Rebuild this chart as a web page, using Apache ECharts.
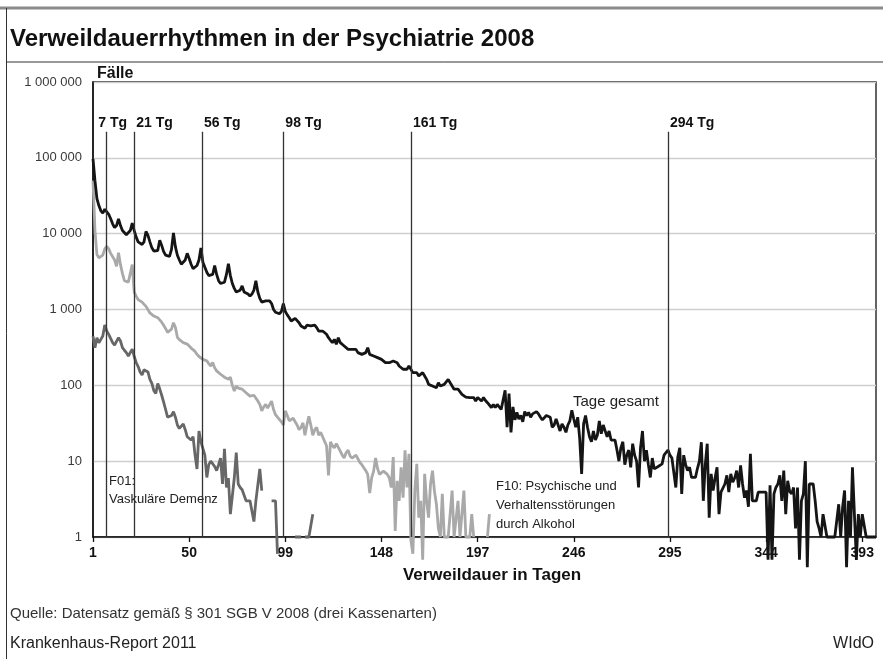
<!DOCTYPE html>
<html>
<head>
<meta charset="utf-8">
<script src="https://cdn.jsdelivr.net/npm/echarts@6/dist/echarts.min.js"></script>
<style>
  html, body { margin: 0; padding: 0; background: #fff; }
  #chart { width: 883px; height: 659px; }
</style>
</head>
<body>
<div id="chart"></div>
<script>
  // Fälle je Verweildauertag, Index 0 = Tag 1 (Werte < 1 = kein Fall, unter die Achse gezeichnet)
  var tageGesamt = [
    97000, 50000, 29000, 23500, 20000, 18700, 21000, 20000, 18000, 15700,
    13500, 12000, 12800, 15700, 12800, 11000, 10500, 9700, 9500, 11000,
    13800, 11000, 9000, 7800, 7400, 7200, 7800, 10700, 9500, 7800,
    6500, 5900, 5600, 6000, 8200, 7000, 5800, 5200, 5000, 5000,
    6200, 10200, 6700, 5200, 4500, 3950, 3950, 4500, 5500, 4700,
    3950, 3450, 3500, 3800, 4500, 6500, 4200, 3600, 3100, 2800,
    2650, 2900, 3800, 2900, 2400, 2200, 2150, 2300, 2900, 4000,
    2800, 2200, 1900, 1700, 1750, 1800, 2050, 1700, 1650, 1600,
    1500, 1600, 1800, 2400, 1700, 1400, 1250, 1250, 1300, 1350,
    1300, 1200, 1000, 920, 900, 880, 940, 1200, 940, 850,
    780, 705, 715, 765, 742, 670, 606, 576, 565, 620,
    606, 606, 576, 620, 576, 520, 495, 520, 495, 471,
    425, 393, 365, 404, 348, 425, 365, 348, 330, 314,
    298, 314, 298, 284, 298, 270, 270, 256, 270, 270,
    314, 256, 244, 244, 232, 232, 220, 220, 209, 199,
    209, 199, 199, 209, 220, 199, 180, 171, 163, 163,
    163, 180, 171, 147, 140, 147, 133, 140, 147, 133,
    120, 103, 108, 98, 103, 93, 108, 98, 93, 103,
    98, 120, 108, 98, 89, 84, 89, 84, 76, 72,
    70, 72, 69, 65, 69, 62, 69, 65, 62, 69,
    63, 59, 56, 51, 56, 51, 56, 53, 48, 49,
    86, 28, 78, 24, 52, 35, 44, 36, 40, 33,
    45, 40, 44, 38, 42, 40, 45, 42, 38, 35,
    33, 40, 42, 38, 28, 30, 36, 30, 25, 31,
    28, 24, 30, 34, 47, 36, 28, 38, 20, 6.8,
    31, 40, 28, 21, 18, 25, 19, 22, 34, 23,
    30, 25, 21, 25, 19, 19, 19, 14, 10, 15,
    18, 9, 12, 14, 8.3, 17, 12, 10, 4.5, 15,
    25, 10, 14, 9, 6.1, 11, 7.9, 8.3, 8.5, 8.8,
    9.2, 12, 13, 14, 12, 11, 7, 4.5, 11.3, 15,
    3.7, 12, 9, 7.5, 8.3, 6.1, 6.1, 6.1, 8, 10,
    17.8, 3, 9, 17, 1.8, 6.8, 4.1, 6, 8.3, 2,
    3.9, 4.1, 5, 6.5, 3.9, 6.8, 5.3, 6, 7.5, 4.5,
    8.8, 5, 3.3, 4.1, 2.5, 12.5, 3, 3, 3, 3.9,
    3.9, 3.9, 3.9, 3.9, 0.5, 4.8, 0.5, 3.7, 4.5, 5,
    6.5, 3, 7.5, 2, 5.5, 4, 3.7, 4.5, 1.3, 4.5,
    0.5, 3, 3.7, 10, 0.4, 5, 5, 5, 3, 1.6,
    1.3, 1, 2, 2, 1, 1, 1, 1, 1, 1,
    2.7, 1, 2.5, 4.1, 0.4, 3, 1, 8.3, 2, 0.5,
    2, 1, 2, 2, 1, 1, 1, 1, 1, 1
  ];

  var f10Alkohol = [
    50000, 11000, 5300, 4800, 4800, 5200, 6300, 6800, 6300, 5500,
    5700, 4500, 3700, 5600, 3900, 3000, 2400, 2400, 2300, 2200,
    3900, 1700, 1500, 1350, 1300, 1250, 1200, 1100, 1050, 900,
    860, 820, 800, 780, 800, 680, 620, 560, 500, 520,
    550, 670, 580, 430, 400, 380, 365, 360, 350, 330,
    310, 300, 280, 256, 240, 230, 220, 230, 210, 193,
    180, 200, 170, 155, 150, 140, 133, 128, 122, 120,
    128, 100, 84, 98, 92, 88, 89, 85, 80, 76,
    72, 69, 74, 76, 62, 56, 46, 52, 56, 50,
    51, 62, 48, 41, 38, 37, 33, 30, 46, 40,
    34, 36, 37, 33, 30, 26, 28, 32, 22, 30,
    39, 30, 22, 26, 28, 22, 24, 21, 20, 16,
    6.5, 18, 16, 15, 17, 16, 13.6, 12, 11, 13,
    14, 11.7, 11, 10.6, 12, 12.5, 9.6, 9, 8.2, 7.5,
    6.7, 3.8, 6, 7.4, 11, 8, 6.7, 7, 7.4, 7,
    6.7, 6, 4.5, 11.3, 1.2, 5.5, 3, 8.3, 3.3, 13.9,
    4.5, 12.5, 0.9, 0.6, 4.1, 9.2, 1.8, 3, 0.5, 6.8,
    3, 1.8, 5, 7.5, 4, 2.7, 1.3, 1, 3.7, 1,
    1, 1, 1, 4.1, 1, 1, 3, 1, 1, 4.1,
    1, 1, 1, 2, 1, null, null, null, null, null,
    null, 1, 2
  ];

  var f01Demenz = [
    447, 314, 425, 365, 404, 447, 625, 520, 470, 447,
    365, 340, 380, 425, 384, 314, 290, 270, 244, 232,
    300, 240, 200, 177, 150, 137, 160, 168, 150, 120,
    106, 85, 78, 106, 90, 74, 60, 48, 38, 37,
    40, 45, 38, 30, 27, 29, 31, 26, 21, 20,
    19, 21, 12, 7.9, 25, 18, 17, 12, 6.1, 9,
    10, 10, 8.5, 7.5, 9, 11, 5, 14.6, 4.5, 6,
    2, 2, 6, 13, 5, 4.5, 4.2, 4, 3, 3,
    3, 3, 1.6, 3, 3, 7.9, 4.1, null, null, null,
    null, 3, 3, 3, 0.6, null, null, null, null, null,
    null, null, null, 1, 1, 1, 1, null, 1, 1,
    1, 1, 2
  ];

  var xTicks = [1, 50, 99, 148, 197, 246, 295, 344, 393];
  var refLabels = ['7 Tg', '21 Tg', '56 Tg', '98 Tg', '161 Tg', '294 Tg'];
  var refPos = [7.5, 22, 56.5, 98, 163, 294];

  var FONT = "'Liberation Sans', Arial, sans-serif";

  function toPairs(arr) {
    return arr.map(function (v, i) {
      return [i + 1, v == null ? '-' : v];
    });
  }

  var refLines = refPos.map(function (d, i) {
    var lbl = { formatter: refLabels[i] };
    if (i === 0) {
      lbl.align = 'center';
      lbl.padding = [0, 0, 0, 14];
    }
    return [
      { coord: [d, 1], label: lbl },
      { coord: [d, 220000] }
    ];
  });

  var myChart = echarts.init(document.getElementById('chart'), null, { renderer: 'canvas' });

  var option = {
    animation: false,
    backgroundColor: '#fff',
    textStyle: { fontFamily: FONT },
    grid: {
      left: 93, right: 7, top: 82, bottom: 122,
      show: true, borderColor: '#111', borderWidth: 1.3,
      containLabel: false
    },
    xAxis: {
      type: 'value', min: 1, max: 400,
      axisLine: { lineStyle: { color: '#111', width: 1.5 } },
      axisTick: { show: true, customValues: xTicks, length: 5, lineStyle: { color: '#111', width: 1.3 } },
      axisLabel: { customValues: xTicks, margin: 9, fontSize: 14, fontWeight: 'bold', color: '#111', fontFamily: FONT },
      splitLine: { show: false },
      name: 'Verweildauer in Tagen',
      nameLocation: 'middle',
      nameGap: 30,
      nameTextStyle: { fontSize: 17, fontWeight: 'bold', color: '#111', fontFamily: FONT, padding: [0, 0, 0, 15] }
    },
    yAxis: {
      type: 'log', logBase: 10, min: 1, max: 1000000,
      axisLine: { show: true, lineStyle: { color: '#111', width: 1.5 } },
      axisTick: { show: false },
      axisLabel: {
        margin: 11, fontSize: 13, color: '#3a3a3a', fontFamily: FONT,
        formatter: function (v) {
          return String(Math.round(v)).replace(/\B(?=(\d{3})+(?!\d))/g, ' ');
        }
      },
      splitLine: { lineStyle: { color: '#cfcfcf', width: 1.3 } },
      name: 'Fälle',
      nameLocation: 'end',
      nameGap: 0,
      nameTextStyle: { align: 'left', verticalAlign: 'bottom', fontSize: 16, fontWeight: 'bold', color: '#111', fontFamily: FONT, padding: [0, 0, 0, 4] }
    },
    series: [
      {
        name: 'F10', type: 'line', data: toPairs(f10Alkohol),
        showSymbol: false, symbol: 'none', clip: false, connectNulls: false,
        lineStyle: { color: '#a9a9a9', width: 2.8 }, z: 2
      },
      {
        name: 'F01', type: 'line', data: toPairs(f01Demenz),
        showSymbol: false, symbol: 'none', clip: false, connectNulls: false,
        lineStyle: { color: '#676767', width: 2.8 }, z: 3
      },
      {
        name: 'Tage gesamt', type: 'line', data: toPairs(tageGesamt),
        showSymbol: false, symbol: 'none', clip: false,
        lineStyle: { color: '#151515', width: 2.8 }, z: 4,
        markLine: {
          silent: true,
          symbol: ['none', 'none'],
          lineStyle: { color: '#333', width: 1.3, type: 'solid' },
          label: {
            show: true, position: 'end', distance: 2, align: 'left',
            fontSize: 14, fontWeight: 'bold', color: '#111', fontFamily: FONT,
            padding: [0, 0, 0, 2]
          },
          data: refLines
        }
      }
    ],
    graphic: [
      { type: 'line', shape: { x1: 0, y1: 8, x2: 883, y2: 8 }, style: { stroke: '#8a8a8a', lineWidth: 3 } },
      { type: 'line', shape: { x1: 6.5, y1: 8, x2: 6.5, y2: 659 }, style: { stroke: '#333', lineWidth: 1 } },
      { type: 'line', shape: { x1: 6.5, y1: 62, x2: 883, y2: 62 }, style: { stroke: '#333', lineWidth: 1 } },
      { type: 'text', left: 10, top: 27, style: { text: 'Verweildauerrhythmen in der Psychiatrie 2008', font: 'bold 24px ' + FONT, fill: '#111' } },
      { type: 'text', left: 573, top: 394, style: { text: 'Tage gesamt', font: '15px ' + FONT, fill: '#222' } },
      { type: 'text', left: 496, top: 477, style: { text: 'F10: Psychische und\nVerhaltensstörungen\ndurch Alkohol', font: '13px ' + FONT, fill: '#222', lineHeight: 19 } },
      { type: 'text', left: 109, top: 472, style: { text: 'F01:\nVaskuläre Demenz', font: '13px ' + FONT, fill: '#222', lineHeight: 18 } },
      { type: 'text', left: 10, top: 606, style: { text: 'Quelle: Datensatz gemäß § 301 SGB V 2008 (drei Kassenarten)', font: '15px ' + FONT, fill: '#333' } },
      { type: 'text', left: 10, top: 636, style: { text: 'Krankenhaus-Report 2011', font: '16px ' + FONT, fill: '#222' } },
      { type: 'text', right: 9, top: 636, style: { text: 'WIdO', font: '16px ' + FONT, fill: '#222' } }
    ]
  };

  option && myChart.setOption(option);
</script>
</body>
</html>
